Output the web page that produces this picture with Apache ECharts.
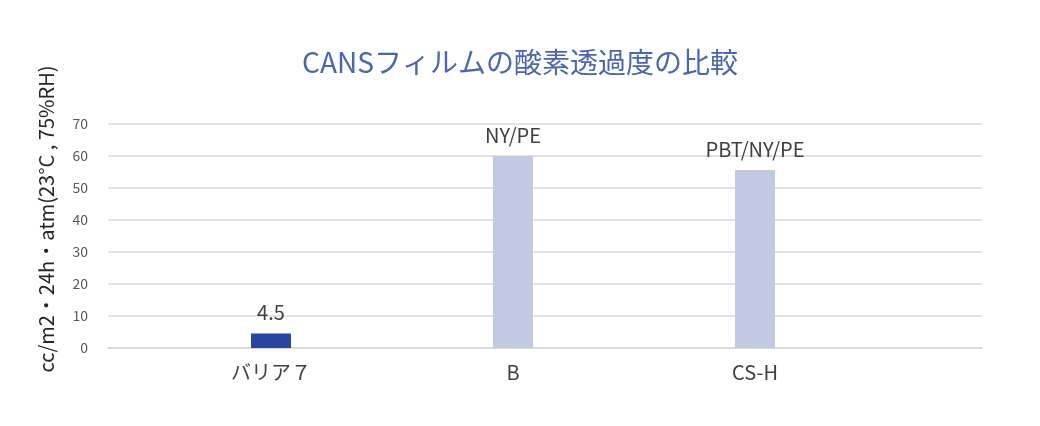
<!DOCTYPE html>
<html>
<head>
<meta charset="utf-8">
<script src="https://cdn.jsdelivr.net/npm/echarts@6/dist/echarts.min.js"></script>
<style>
html,body{margin:0;padding:0;background:#fff;}
#c{width:1040px;height:426px;}
</style>
</head>
<body>
<div id="c"></div>
<script>
var titleText = 'CANSフィルムの酸素透過度の比較';
var yAxisName = 'cc/m2・24h・atm(23°C , 75%RH)';
var categories = ['バリア７', 'B', 'CS-H'];
var values = [4.5, 60, 55.6];
var barLabels = ['4.5', 'NY/PE', 'PBT/NY/PE'];
var barColors = ['#2845a0', '#c2cae3', '#c2cae3'];
var yTicks = [0, 10, 20, 30, 40, 50, 60, 70];

var FONT = '"Noto Sans CJK JP", "Noto Sans", sans-serif';
var chart = echarts.init(document.getElementById('c'));
chart.setOption({
  animation: false,
  backgroundColor: '#ffffff',
  title: {
    text: titleText,
    left: 'center',
    top: 43,
    textStyle: { color: '#4a66b0', fontSize: 28, fontWeight: 'normal', fontFamily: FONT }
  },
  grid: [
    { left: 108, right: 58, top: 124, bottom: 78 },
    { left: 150, right: 164, top: 124, bottom: 78 }
  ],
  xAxis: [
    { type: 'category', gridIndex: 0, data: categories, show: true,
      axisLine: { show: true, lineStyle: { color: '#d9d9d9', width: 1.5 } },
      axisTick: { show: false }, axisLabel: { show: false } },
    { type: 'category', gridIndex: 1, data: categories,
      axisLine: { show: false }, axisTick: { show: false },
      axisLabel: { color: '#404040', fontSize: 20, fontFamily: FONT, margin: 14 } }
  ],
  yAxis: [
    { type: 'value', gridIndex: 0, min: yTicks[0], max: yTicks[yTicks.length - 1], interval: 10,
      name: yAxisName, nameLocation: 'middle', nameRotate: 90, nameGap: 52,
      nameTextStyle: { color: '#262626', fontSize: 20, fontFamily: FONT, padding: [0, 0, 0, 34] },
      axisLine: { show: false }, axisTick: { show: false },
      axisLabel: { color: '#595959', fontSize: 14, fontFamily: FONT, margin: 20 },
      splitLine: { lineStyle: { color: '#d9d9d9', width: 1.5 } } },
    { type: 'value', gridIndex: 1, min: yTicks[0], max: yTicks[yTicks.length - 1], interval: 10,
      show: false, splitLine: { show: false } }
  ],
  series: [{
    type: 'bar',
    xAxisIndex: 1, yAxisIndex: 1,
    barWidth: 40,
    data: values.map(function (v, i) {
      return { value: v, itemStyle: { color: barColors[i] } };
    }),
    label: {
      show: true, position: 'top', distance: 11,
      color: '#404040', fontSize: 20, fontFamily: FONT,
      formatter: function (p) { return barLabels[p.dataIndex]; }
    }
  }]
});
</script>
</body>
</html>
